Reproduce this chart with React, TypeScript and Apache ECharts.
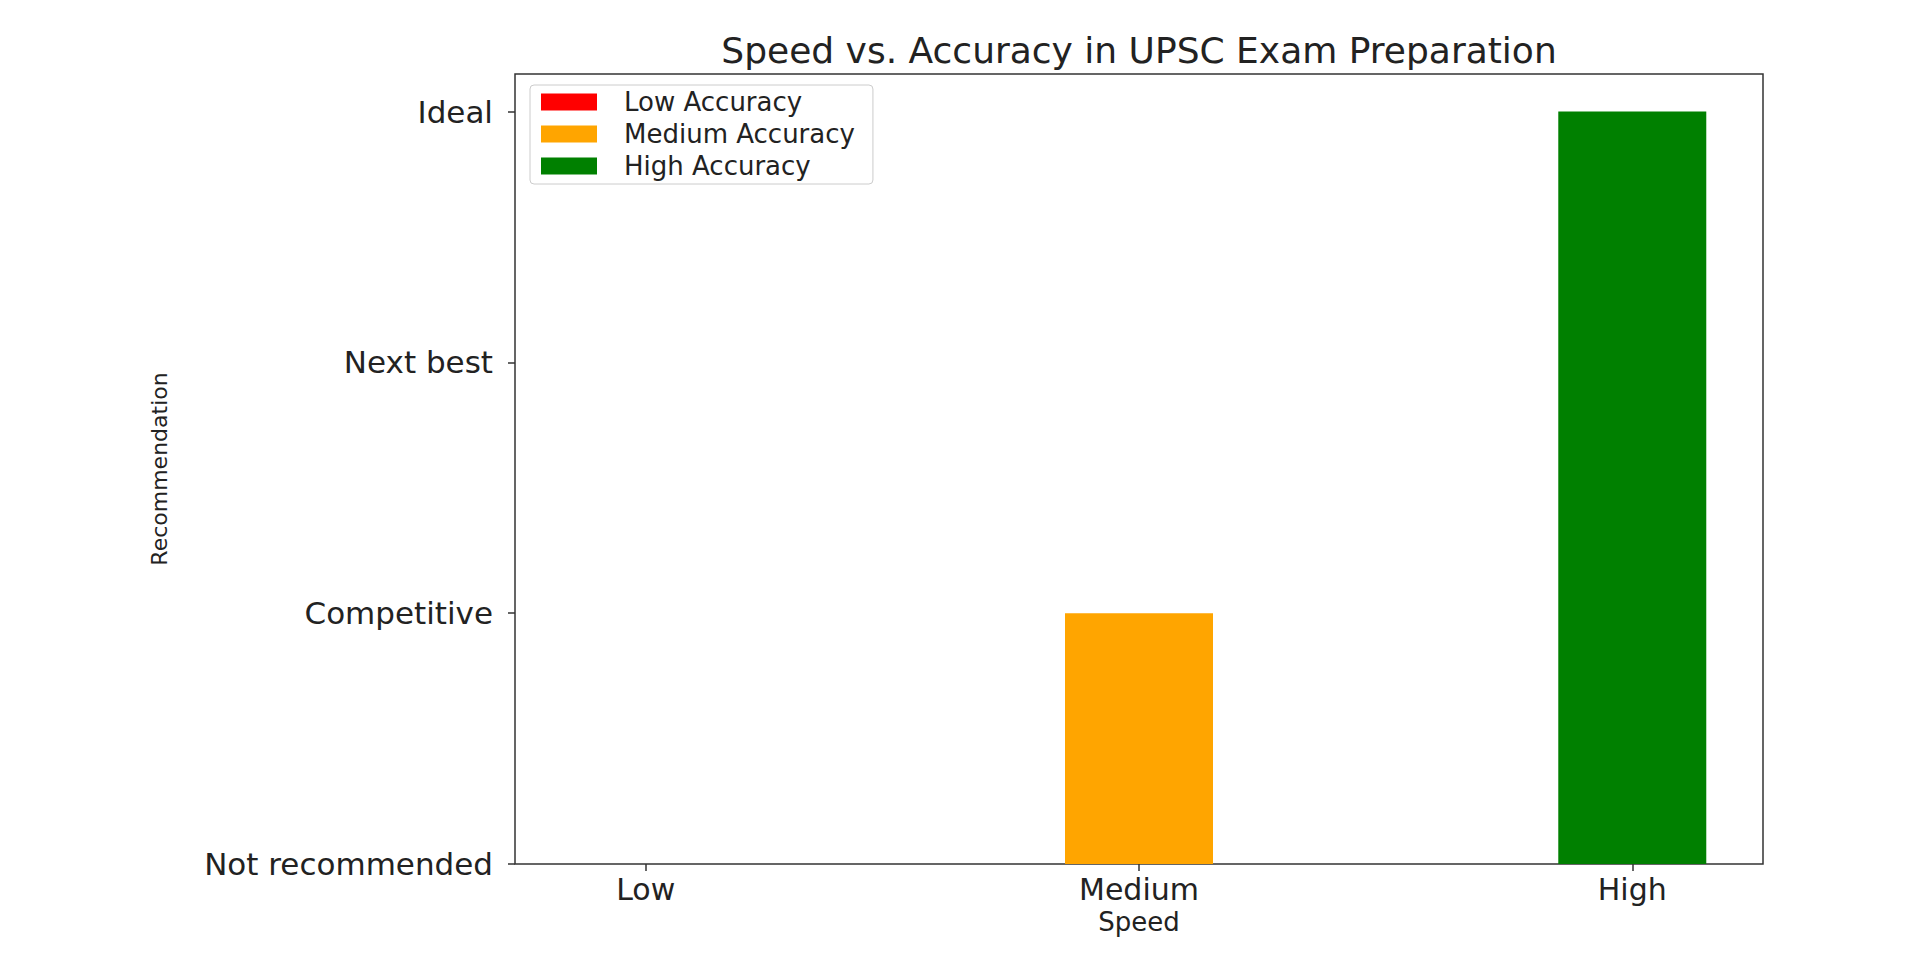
import React, { useEffect, useRef } from "react";
import * as echarts from "echarts";

const speeds = ["Low", "Medium", "High"];
const recommendationLabels = ["Not recommended", "Competitive", "Next best", "Ideal"];
const accuracyLevels = ["Low Accuracy", "Medium Accuracy", "High Accuracy"];
const accuracyColors = ["#ff0000", "#ffa500", "#008000"];
// [speed index, recommendation index]
const lowAccuracyData = [[0, 0]];
const mediumAccuracyData = [[1, 1]];
const highAccuracyData = [[2, 3]];

const FONT = "DejaVu Sans";

export default function App() {
  const ref = useRef<HTMLDivElement>(null);
  useEffect(() => {
    if (!ref.current) return;
    const chart = echarts.init(ref.current, undefined, { renderer: "svg" });
    const seriesData = [lowAccuracyData, mediumAccuracyData, highAccuracyData];
    chart.setOption({
      animation: false,
      backgroundColor: "#ffffff",
      textStyle: { fontFamily: FONT },
      graphic: [
        {
          type: "text",
          x: 1139,
          y: 50,
          style: {
            text: "Speed vs. Accuracy in UPSC Exam Preparation",
            align: "center",
            verticalAlign: "middle",
            fontFamily: FONT,
            fontSize: 36,
            fill: "#222",
          },
        },
      ],
      grid: {
        left: 515,
        right: 153,
        top: 74,
        bottom: 110,
        show: true,
        borderColor: "#333",
        borderWidth: 1.5,
        backgroundColor: "transparent",
      },
      legend: {
        orient: "vertical",
        left: 530,
        top: 85,
        data: accuracyLevels,
        icon: "rect",
        itemWidth: 56,
        itemHeight: 17,
        itemGap: 6,
        padding: [4, 18, 5, 11],
        backgroundColor: "#fff",
        borderColor: "#cccccc",
        borderWidth: 1,
        borderRadius: 4,
        textStyle: { fontFamily: FONT, fontSize: 26, color: "#222", padding: [0, 0, 0, 22] },
      },
      xAxis: {
        type: "value",
        min: -0.265,
        max: 2.265,
        name: "Speed",
        nameLocation: "middle",
        nameGap: 45,
        nameTextStyle: { fontFamily: FONT, fontSize: 26, color: "#222" },
        axisLine: { show: false, onZero: false },
        splitLine: { show: false },
        axisTick: {
          show: true,
          length: 7,
          lineStyle: { color: "#333", width: 1.5 },
          customValues: [0, 1, 2],
        },
        axisLabel: {
          customValues: [0, 1, 2],
          margin: 10,
          fontFamily: FONT,
          fontSize: 30,
          color: "#222",
          formatter: (v: number) => speeds[Math.round(v)] ?? "",
        },
      },
      yAxis: {
        type: "value",
        min: 0,
        max: 3.15,
        name: "Recommendation",
        nameLocation: "middle",
        nameGap: 345,
        nameTextStyle: { fontFamily: FONT, fontSize: 22, color: "#222" },
        axisLine: { show: false, onZero: false },
        splitLine: { show: false },
        axisTick: {
          show: true,
          length: 7,
          lineStyle: { color: "#333", width: 1.5 },
          customValues: [0, 1, 2, 3],
        },
        axisLabel: {
          customValues: [0, 1, 2, 3],
          margin: 22,
          fontFamily: FONT,
          fontSize: 31,
          color: "#222",
          formatter: (v: number) => recommendationLabels[Math.round(v)] ?? "",
        },
      },
      series: accuracyLevels.map((name, i) => ({
        name,
        type: "bar",
        data: seriesData[i],
        barWidth: 148,
        barGap: "-100%",
        itemStyle: { color: accuracyColors[i] },
      })),
    });
    return () => chart.dispose();
  }, []);
  return (
    <div
      ref={ref}
      style={{ position: "fixed", left: 0, top: 0, width: 1916, height: 974, background: "#fff" }}
    />
  );
}
